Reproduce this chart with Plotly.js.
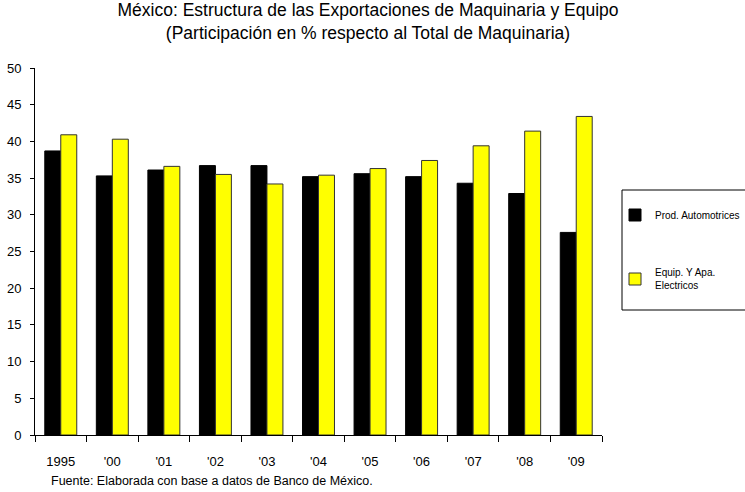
<!DOCTYPE html>
<html>
<head>
<meta charset="utf-8">
<script src="https://cdn.plot.ly/plotly-3.0.1.min.js"></script>
<style>html,body{margin:0;padding:0;background:#fff;}#chart{width:745px;height:492px;}</style>
</head>
<body>
<div id="chart"></div>
<script>
const categories = ["1995", "'00", "'01", "'02", "'03", "'04", "'05", "'06", "'07", "'08", "'09"];
const prodAutomotrices = [38.7, 35.3, 36.1, 36.7, 36.7, 35.2, 35.6, 35.2, 34.3, 32.9, 27.6];
const equipElectricos = [40.9, 40.3, 36.6, 35.5, 34.2, 35.4, 36.3, 37.4, 39.4, 41.4, 43.4];
const seriesNames = ["Prod. Automotrices", "Equip. Y Apa.<br>Electricos"];
const yTicks = [0, 5, 10, 15, 20, 25, 30, 35, 40, 45, 50];

const font = "Liberation Sans, Arial, sans-serif";

const traces = [
  {type: 'bar', name: seriesNames[0], x: categories, y: prodAutomotrices, legend: 'legend',
   marker: {color: '#000000', line: {color: '#000000', width: 1}}, hoverinfo: 'x+y'},
  {type: 'bar', name: seriesNames[1], x: categories, y: equipElectricos, legend: 'legend2',
   marker: {color: '#FFFF00', line: {color: '#333333', width: 1}}, hoverinfo: 'x+y'}
];

const legendBase = {
  x: (615 - 35) / 567, xanchor: 'left', yanchor: 'middle',
  bgcolor: 'rgba(0,0,0,0)', borderwidth: 0,
  font: {family: font, size: 10, color: '#000000'}
};

const layout = {
  width: 745, height: 492,
  margin: {l: 35, r: 143, t: 68, b: 57, pad: 0, autoexpand: false},
  paper_bgcolor: '#ffffff', plot_bgcolor: '#ffffff',
  font: {family: font, color: '#000000', size: 13},
  title: {
    text: "México: Estructura de las Exportaciones de Maquinaria y Equipo<br>(Participación en % respecto al Total de Maquinaria)",
    font: {family: font, size: 17.5, color: '#000000'},
    xref: 'container', x: 0.494, xanchor: 'center',
    yref: 'container', y: 0.9675, yanchor: 'middle'
  },
  barmode: 'group', bargap: 0.38, bargroupgap: 0,
  showlegend: true,
  legend: Object.assign({}, legendBase, {y: (435 - 215) / 367}),
  legend2: Object.assign({}, legendBase, {y: (435 - 279) / 367}),
  xaxis: {
    type: 'category', tickson: 'boundaries', ticks: 'outside', ticklen: 6, tickcolor: '#000',
    showline: true, linecolor: '#000', linewidth: 1, showgrid: false, zeroline: false,
    tickfont: {family: font, size: 13, color: '#000'}, ticklabelstandoff: 14, fixedrange: true
  },
  yaxis: {
    range: [0, 50], tickvals: yTicks, ticktext: yTicks.map(String), ticks: 'outside', ticklen: 4, tickcolor: '#000',
    showline: true, linecolor: '#000', linewidth: 1, showgrid: false, zeroline: false,
    tickfont: {family: font, size: 13, color: '#000'}, ticklabelstandoff: 6, fixedrange: true
  },
  shapes: [
    {type: 'rect', xref: 'paper', yref: 'paper', x0: (622 - 35) / 567, x1: (760 - 35) / 567, y0: (435 - 310) / 367, y1: (435 - 190) / 367,
     line: {color: '#000', width: 1}, fillcolor: 'rgba(0,0,0,0)', layer: 'below'}
  ],
  annotations: [
    {text: "Fuente: Elaborada con base a datos de Banco de México.", xref: 'paper', yref: 'paper',
     x: 0.0247, xanchor: 'left', y: -0.1253, yanchor: 'middle', showarrow: false,
     font: {family: font, size: 12.5, color: '#000'}}
  ]
};

Plotly.newPlot('chart', traces, layout, {displayModeBar: false, staticPlot: true});
</script>
</body>
</html>
